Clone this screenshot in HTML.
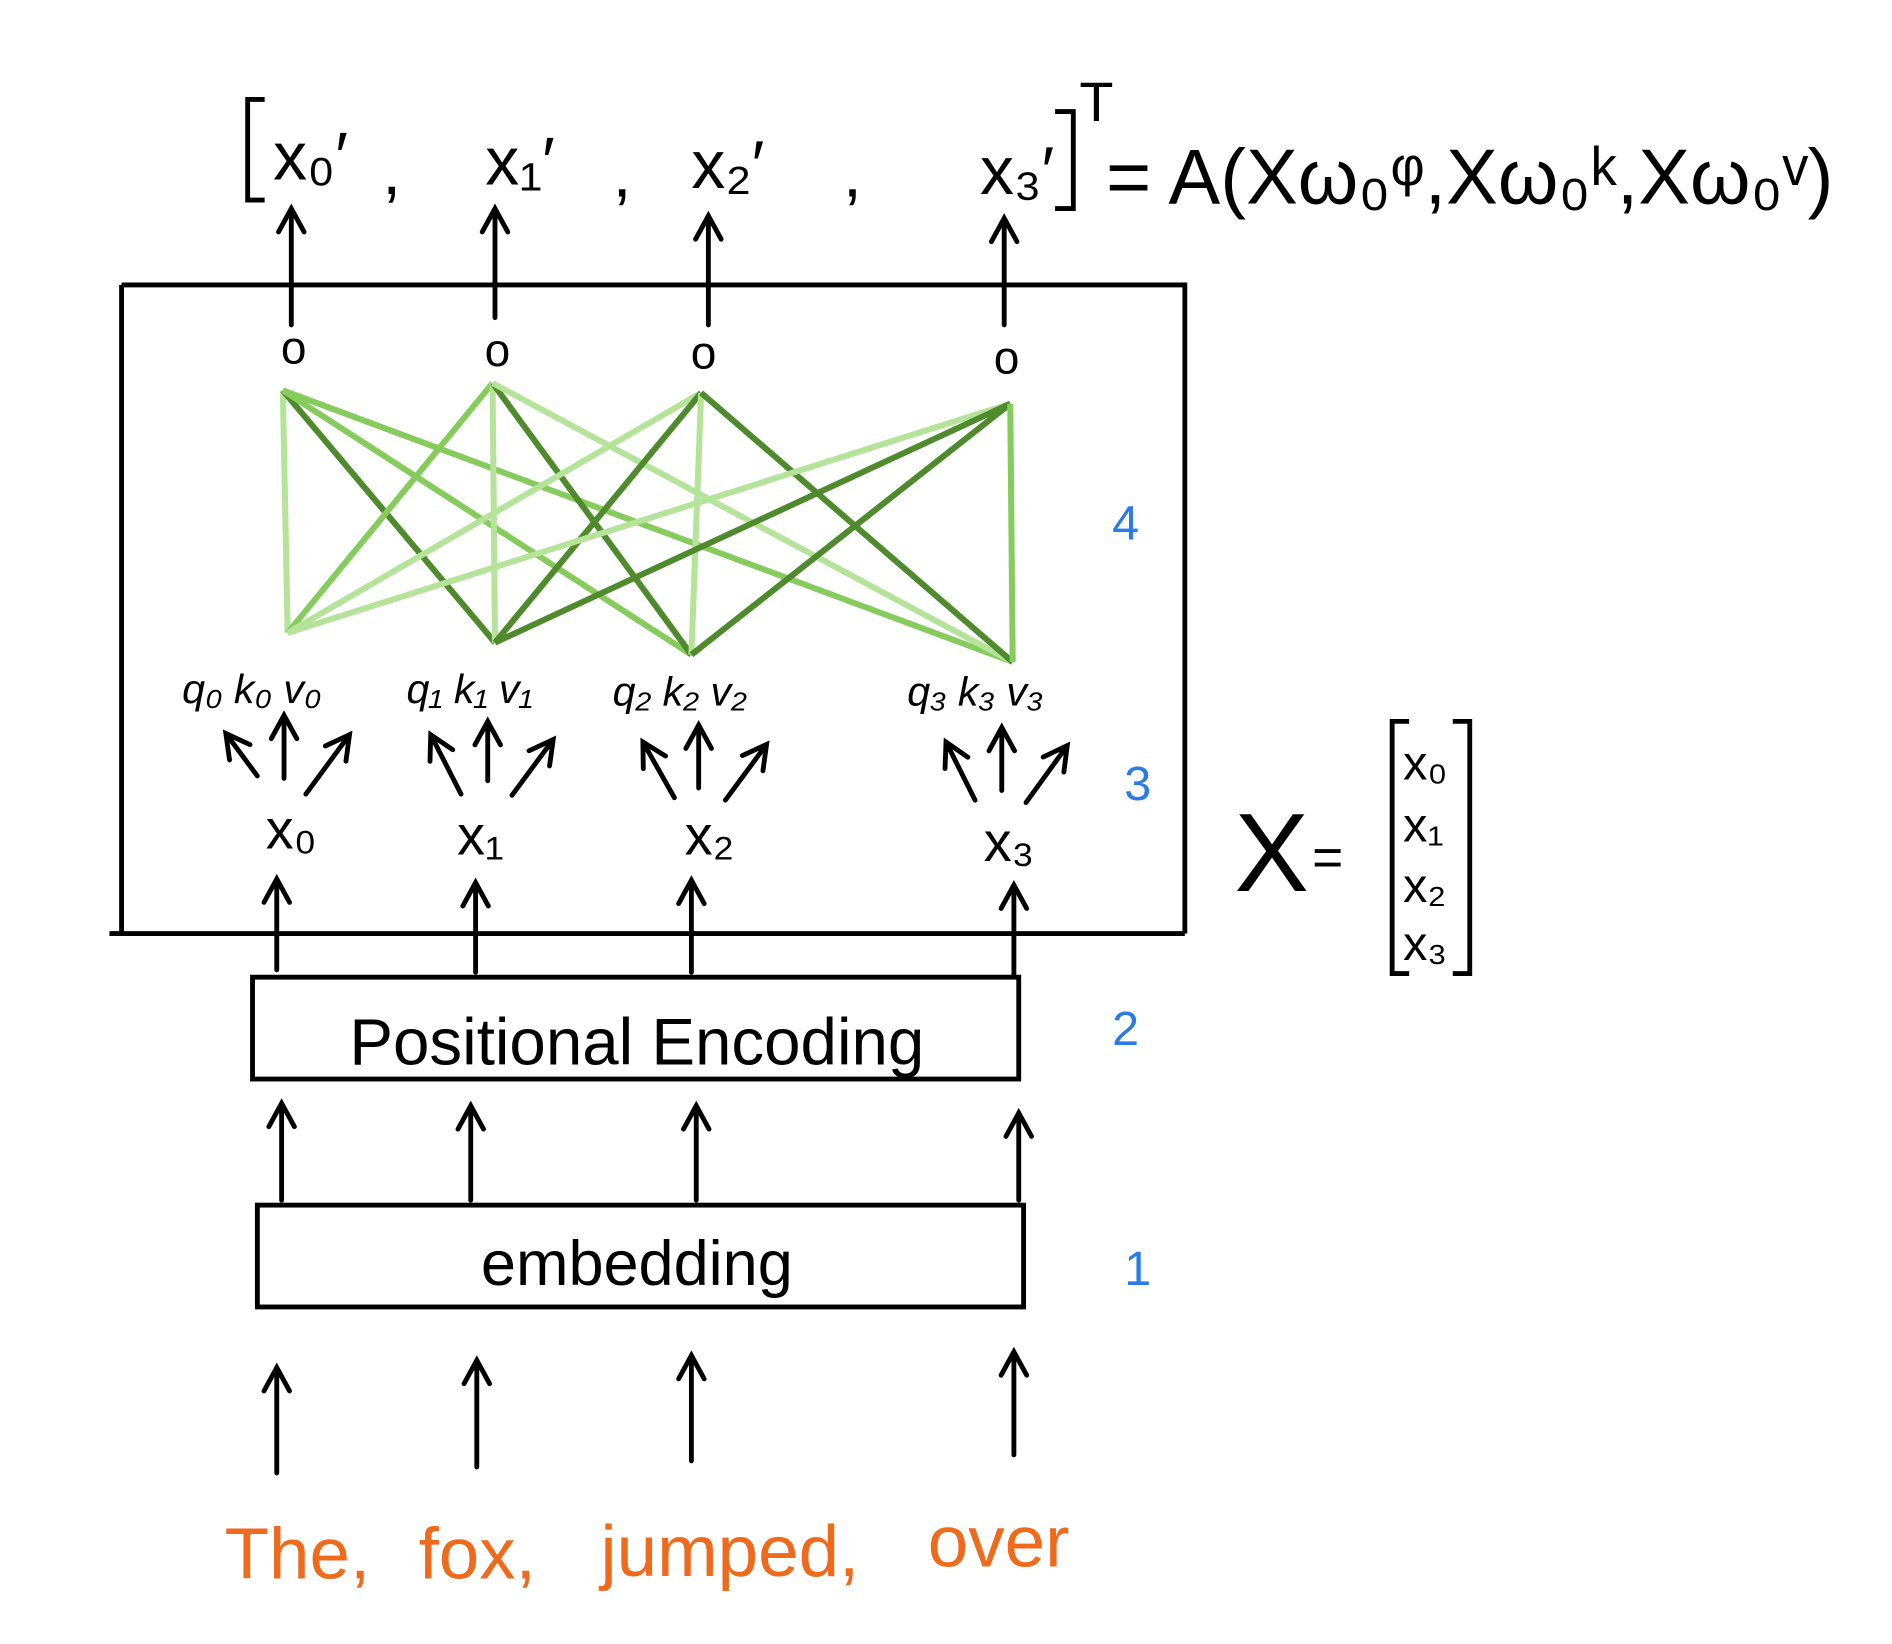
<!DOCTYPE html>
<html><head><meta charset="utf-8">
<style>
html,body{margin:0;padding:0;background:#fff;}
svg{display:block;}
text{font-family:"Liberation Sans",sans-serif;}
</style></head>
<body>
<svg id="fig" width="1892" height="1644" viewBox="0 0 1560 1356" xmlns="http://www.w3.org/2000/svg">
<g stroke="#000" stroke-width="4" fill="none">
<path d="M100,235 L977,235 L977,770 M100,235 L100,770 M90,770 L977,770"/>
<rect x="208" y="806" width="632" height="84"/>
<rect x="212" y="994" width="632" height="84"/>
<path d="M218,82 L204,82 L204,165 L218,165 M870,92 L885,92 L885,172 L870,172"/>
</g>
<g id="lines"></g>
<g id="arrows"></g>
<g font-size="56" fill="#000">
<text x="225" y="148">x₀′</text>
<text x="315" y="160">,</text>
<text x="400" y="152">x₁′</text>
<text x="505" y="162">,</text>
<text x="570" y="155">x₂′</text>
<text x="695" y="162">,</text>
<text x="808" y="160">x₃′</text>
</g>
<text x="890" y="100" font-size="46">T</text>
<text x="912" y="168" font-size="64" textLength="600" lengthAdjust="spacingAndGlyphs">= A(Xω₀ᵠ,Xω₀ᵏ,Xω₀ᵛ)</text>
<g font-size="38" fill="#000">
<text x="242" y="300" text-anchor="middle">o</text>
<text x="410" y="302" text-anchor="middle">o</text>
<text x="580" y="304" text-anchor="middle">o</text>
<text x="830" y="308" text-anchor="middle">o</text>
</g>
<g font-size="34" fill="#000" font-style="italic">
<text x="150" y="580">q₀  k₀  v₀</text>
<text x="335" y="580">q₁  k₁  v₁</text>
<text x="505" y="582">q₂  k₂ v₂</text>
<text x="748" y="582">q₃  k₃ v₃</text>
</g>
<g font-size="46" fill="#000">
<text x="240" y="700" text-anchor="middle">x₀</text>
<text x="396" y="705" text-anchor="middle">x₁</text>
<text x="585" y="705" text-anchor="middle">x₂</text>
<text x="832" y="710" text-anchor="middle">x₃</text>
</g>
<text x="525" y="878" font-size="54" text-anchor="middle">Positional   Encoding</text>
<text x="525" y="1060" font-size="52" text-anchor="middle">embedding</text>
<g fill="#2a7be8" font-size="40">
<text x="917" y="445">4</text>
<text x="927" y="660">3</text>
<text x="917" y="862">2</text>
<text x="927" y="1060">1</text>
</g>
<text x="1018" y="735" font-size="92">X</text>
<text x="1082" y="722" font-size="44">=</text>
<path d="M1162,595 L1148,595 L1148,803 L1162,803 M1198,595 L1212,595 L1212,803 L1198,803" stroke="#000" stroke-width="4" fill="none"/>
<g font-size="40" fill="#000">
<text x="1157" y="643">x₀</text>
<text x="1157" y="694">x₁</text>
<text x="1157" y="744">x₂</text>
<text x="1157" y="792">x₃</text>
</g>
<g fill="#f06a1c" font-size="60">
<text x="185" y="1302">The,</text>
<text x="345" y="1302">fox,</text>
<text x="495" y="1300">jumped,</text>
<text x="765" y="1292">over</text>
</g>
</svg>
<script>
const topNodes = [[233,322],[406,316],[578,324],[833,333]];
const botNodes = [[237,522],[408,530],[570,540],[835,546]];
// attention strength shade index (0 light .. 2 dark), rows = top node, cols = bottom node
const weights = [[0,2,1,1],[1,0,2,0],[0,2,0,2],[0,2,2,1]];
const shades = ["#b6e39a","#86cc5c","#4f8a2c"];
const NS="http://www.w3.org/2000/svg";
const lg=document.getElementById('lines');
weights.forEach((row,i)=>row.forEach((w,j)=>{
  const l=document.createElementNS(NS,'line');
  l.setAttribute('x1',topNodes[i][0]);l.setAttribute('y1',topNodes[i][1]);
  l.setAttribute('x2',botNodes[j][0]);l.setAttribute('y2',botNodes[j][1]);
  l.setAttribute('stroke',shades[w]);l.setAttribute('stroke-width',5);
  
  
  lg.appendChild(l);
}));
const arrowSegs = [
 [240,268,240,172],[408,262,408,172],[584,268,584,178],[828,268,828,180],
 [212,640,186,605],[234,642,234,590],[252,655,288,606],
 [380,655,355,606],[402,644,402,595],[422,656,456,610],
 [556,658,530,612],[576,650,576,598],[598,660,632,614],
 [804,660,780,612],[826,652,826,600],[846,662,880,615],
 [228,800,228,725],[392,802,392,728],[570,802,570,726],[836,804,836,730],
 [232,990,232,910],[388,990,388,912],[574,990,574,912],[840,990,840,918],
 [228,1215,228,1128],[393,1210,393,1122],[570,1205,570,1118],[836,1200,836,1115]
];
const ag=document.getElementById('arrows');
arrowSegs.forEach(s=>{
  const dx=s[2]-s[0], dy=s[3]-s[1], L=Math.hypot(dx,dy), ux=dx/L, uy=dy/L;
  const h=22, a=0.5;
  const c=Math.cos(a), sn=Math.sin(a);
  const b1x=s[2]-h*(ux*c-uy*sn), b1y=s[3]-h*(uy*c+ux*sn);
  const b2x=s[2]-h*(ux*c+uy*sn), b2y=s[3]-h*(uy*c-ux*sn);
  const p=document.createElementNS(NS,'path');
  p.setAttribute('d',`M${s[0]},${s[1]} L${s[2]},${s[3]} M${b1x},${b1y} L${s[2]},${s[3]} L${b2x},${b2y}`);
  p.setAttribute('stroke','#000');p.setAttribute('stroke-width',4);p.setAttribute('fill','none');
  p.setAttribute('stroke-linecap','round');
  
  
  ag.appendChild(p);
});
</script>
</body></html>
